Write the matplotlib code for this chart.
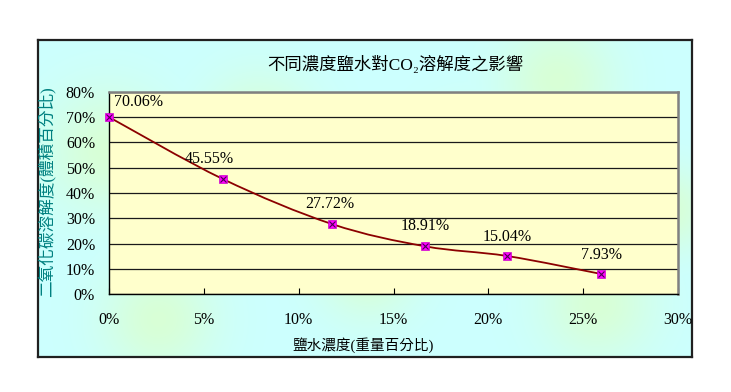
import numpy as np
import matplotlib.pyplot as plt
from matplotlib.patches import PathPatch
from matplotlib.path import Path
from matplotlib.ticker import FuncFormatter

plt.rcParams['font.family'] = ['Liberation Serif', 'Noto Sans CJK TC']

# data
salt = [0, 6, 11.75, 16.65, 21.0, 25.95]          # 鹽水濃度 (重量%)
co2 = [70.06, 45.55, 27.72, 18.91, 15.04, 7.93]   # CO2 溶解度 (體積%)
point_labels = ['70.06%', '45.55%', '27.72%', '18.91%', '15.04%', '7.93%']
label_offsets = [(21.5, 11), (-9.5, 14.5), (-1.5, 14.5), (0.5, 14.5), (0, 14), (0, 14)]

x_ticks = [0, 5, 10, 15, 20, 25, 30]
y_ticks = [0, 10, 20, 30, 40, 50, 60, 70, 80]

fig = plt.figure(figsize=(7.31, 3.92), dpi=100)
fig.patch.set_facecolor('white')

# outer chart panel: cyan with soft pale-green patches
bg = fig.add_axes([38 / 731, 1 - 357 / 392, 654 / 731, 317 / 392], zorder=-5)
gx, gy = np.meshgrid(np.linspace(0, 654, 330), np.linspace(0, 317, 160))
blobs = [(70, 110, 45), (220, 90, 40), (330, 230, 35), (520, 40, 40),
         (560, 265, 40), (120, 280, 40), (430, 120, 35), (630, 170, 30)]
mix = np.zeros_like(gx)
for bx, by, r in blobs:
    mix = np.maximum(mix, np.exp(-((gx - bx) ** 2 + (gy - by) ** 2) / (2 * r ** 2)))
cyan = np.array([0.80, 1.0, 1.0])
green = np.array([0.86, 1.0, 0.80])
img = cyan[None, None, :] * (1 - mix[..., None] * 0.8) + green[None, None, :] * mix[..., None] * 0.8
bg.imshow(img, extent=[0, 654, 317, 0], aspect='auto', interpolation='bilinear')
bg.set_xticks([])
bg.set_yticks([])
for s in bg.spines.values():
    s.set_color('#202020')
    s.set_linewidth(1.6)

ax = fig.add_axes([109 / 731, 1 - 294 / 392, 569 / 731, 202 / 392])
ax.set_zorder(2)
ax.set_facecolor('#FFFFCC')
ax.set_xlim(0, 30)
ax.set_ylim(0, 80)

ax.set_xticks(x_ticks)
ax.set_yticks(y_ticks)
pct = FuncFormatter(lambda v, p: '%d%%' % v)
ax.xaxis.set_major_formatter(pct)
ax.yaxis.set_major_formatter(pct)
ax.tick_params(axis='x', direction='in', length=4, pad=13, labelsize=11.5)
ax.tick_params(axis='y', length=0, pad=10, labelsize=11.5)

ax.grid(axis='y', color='#1a1a1a', linewidth=0.9)
ax.set_axisbelow(True)
for side in ['top', 'right']:
    ax.spines[side].set_color('#808080')
    ax.spines[side].set_linewidth(1.8)
for side in ['left', 'bottom']:
    ax.spines[side].set_color('black')
    ax.spines[side].set_linewidth(1.0)

# smoothed line (Excel-style bezier through the points)
n = len(salt)
verts = [(salt[0], co2[0])]
codes = [Path.MOVETO]
for i in range(n - 1):
    x0, y0 = salt[max(i - 1, 0)], co2[max(i - 1, 0)]
    x1, y1 = salt[i], co2[i]
    x2, y2 = salt[i + 1], co2[i + 1]
    x3, y3 = salt[min(i + 2, n - 1)], co2[min(i + 2, n - 1)]
    c1 = (x1 + (x2 - x0) / 6, y1 + (y2 - y0) / 6)
    c2 = (x2 - (x3 - x1) / 6, y2 - (y3 - y1) / 6)
    verts += [c1, c2, (x2, y2)]
    codes += [Path.CURVE4] * 3
ax.add_patch(PathPatch(Path(verts, codes), facecolor='none',
                       edgecolor='#8B0000', linewidth=1.3, zorder=3))

ax.plot(salt, co2, linestyle='none', marker='s', markersize=5.6,
        markerfacecolor='#FF00FF', markeredgecolor='#CC00CC',
        markeredgewidth=0.5, zorder=4, clip_on=False)
ax.plot(salt, co2, linestyle='none', marker='x', markersize=4.2,
        markeredgecolor='#4B0050', markeredgewidth=0.8, zorder=5,
        clip_on=False)

for xv, yv, txt, off in zip(salt, co2, point_labels, label_offsets):
    ax.annotate(txt, (xv, yv), xytext=off, textcoords='offset points',
                ha='center', va='center', fontsize=11.5)

fig.text(395 / 731, 1 - 65 / 392, '不同濃度鹽水對CO₂溶解度之影響',
         ha='center', va='center', fontsize=12.5)
fig.text(363 / 731, 1 - 345 / 392, '鹽水濃度(重量百分比)',
         ha='center', va='center', fontsize=10.5)
fig.text(47 / 731, 1 - 192 / 392, '二氧化碳溶解度(體積百分比)',
         ha='center', va='center', rotation=90, fontsize=12, color='#008080')

fig.savefig('out.png', dpi=100)
